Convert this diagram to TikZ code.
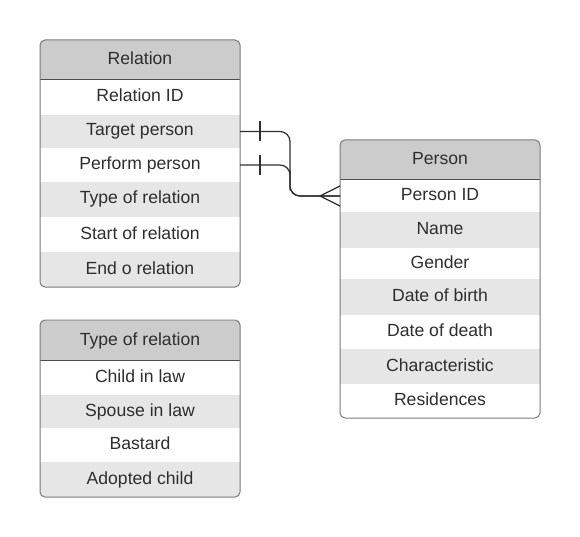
\documentclass[tikz,border=0pt]{standalone}
\usepackage{fontspec}
\setmainfont{Liberation Sans}
\usetikzlibrary{calc}
\definecolor{headfill}{HTML}{CCCCCC}
\definecolor{stripe}{HTML}{E6E6E6}
\definecolor{framec}{HTML}{7A7A7A}
\definecolor{ink}{HTML}{2E2E2E}
\tikzset{
  cell/.style={minimum width=200pt, inner sep=0pt, outer sep=0pt, text=ink,
    font=\fontsize{17.6}{21}\selectfont, text height=12.5pt, text depth=3.5pt},
  roww/.style={cell, fill=white},
  rowg/.style={cell, fill=stripe},
  headrow/.style={cell, fill=headfill, minimum height=40pt},
  tframe/.style={draw=framec, line width=1pt, rounded corners=5pt},
  sepline/.style={draw=ink!85, line width=1pt},
  conn/.style={draw=ink, line width=1.2pt}
}
\begin{document}
\begin{tikzpicture}[x=1pt,y=-1pt]
\useasboundingbox (0,0) rectangle (580,537);

% ---------- Relation ----------
\begin{scope}
\clip[rounded corners=5pt] (40,40) rectangle (240,287);
\node[headrow] (relh) at (140,60.5) {Relation};
\node[roww, minimum height=35pt] (rid) at (140,97.5) {Relation ID};
\node[rowg, minimum height=33pt] (target) at (140,131.5) {Target person};
\node[roww, minimum height=34pt] (perform) at (140,165) {Perform person};
\node[rowg, minimum height=35pt] (rtype) at (140,199.5) {Type of relation};
\node[roww, minimum height=35pt] (rstart) at (140,234.5) {Start of relation};
\node[rowg, minimum height=35pt] (rend) at (140,269.5) {End o relation};
\end{scope}
\draw[sepline] (40,80) -- (240,80);
\draw[tframe] (40,40) rectangle (240,287);

% ---------- Type of relation ----------
\begin{scope}
\clip[rounded corners=5pt] (40,320) rectangle (240,497);
\node[headrow] (typh) at (140,340.5) {Type of relation};
\node[roww, minimum height=35pt] (child) at (140,377.5) {Child in law};
\node[rowg, minimum height=33pt] (spouse) at (140,411.5) {Spouse in law};
\node[roww, minimum height=34pt] (bastard) at (140,445) {Bastard};
\node[rowg, minimum height=35pt] (adopted) at (140,479.5) {Adopted child};
\end{scope}
\draw[sepline] (40,360) -- (240,360);
\draw[tframe] (40,320) rectangle (240,497);

% ---------- Person ----------
\begin{scope}
\clip[rounded corners=5pt] (340,140) rectangle (540,418);
\node[headrow] (perh) at (440,160.5) {Person};
\node[roww, minimum height=32pt] (pid) at (440,196) {Person ID};
\node[rowg, minimum height=36pt] (pname) at (440,230) {Name};
\node[roww, minimum height=31pt] (gender) at (440,263.5) {Gender};
\node[rowg, minimum height=36pt] (dob) at (440,297) {Date of birth};
\node[roww, minimum height=34pt] (dod) at (440,332) {Date of death};
\node[rowg, minimum height=35pt] (charac) at (440,366.5) {Characteristic};
\node[roww, minimum height=34pt] (resid) at (440,401) {Residences};
\end{scope}
\draw[sepline] (340,180) -- (540,180);
\draw[tframe] (340,140) rectangle (540,418);

% ---------- Connectors ----------
\draw[conn, rounded corners=10pt] (target.east) -| ($(target.east)!0.5!(pid.west)$) |- (pid.west);
\draw[conn, rounded corners=10pt] (perform.east) -| ($(perform.east)!0.5!(pid.west)$) |- (pid.west);
% one-marks
\draw[conn] ([xshift=20pt]target.east) +(0,-10) -- +(0,10);
\draw[conn] ([xshift=20pt]perform.east) +(0,-10) -- +(0,10);
% crow's foot
\draw[conn] ([yshift=10pt]pid.west) -- ([xshift=-20pt]pid.west) -- ([yshift=-10pt]pid.west);
\end{tikzpicture}
\end{document}
